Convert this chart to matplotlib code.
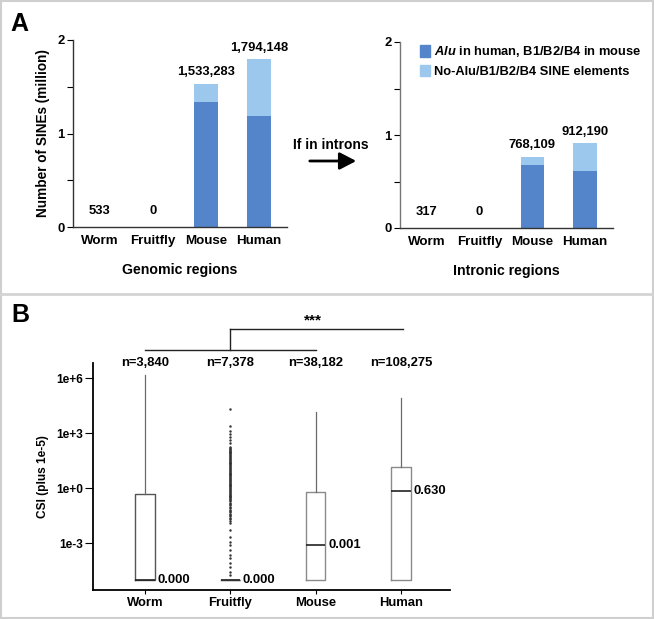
import matplotlib
matplotlib.use("Agg")
import matplotlib.pyplot as plt
import numpy as np
from matplotlib.patches import Rectangle, Patch
from matplotlib.lines import Line2D

plt.rcParams['font.family'] = ['Liberation Sans', 'DejaVu Sans']
plt.rcParams['font.weight'] = 'bold'
plt.rcParams['mathtext.fontset'] = 'custom'
plt.rcParams['mathtext.it'] = 'Liberation Sans:bold:italic'
plt.rcParams['mathtext.rm'] = 'Liberation Sans:bold'

# ---------------- data ----------------
species = ["Worm", "Fruitfly", "Mouse", "Human"]
# Panel A, genomic (million)
genomic_total = [0.000533, 0.0, 1.533283, 1.794148]
genomic_alu = [0.0, 0.0, 1.34, 1.19]
genomic_labels = ["533", "0", "1,533,283", "1,794,148"]
# Panel A, intronic (million)
intronic_total = [0.000317, 0.0, 0.768109, 0.912190]
intronic_alu = [0.0, 0.0, 0.677, 0.613]
intronic_labels = ["317", "0", "768,109", "912,190"]
legend_labels = [r"$\mathit{Alu}$ in human, B1/B2/B4 in mouse",
                 "No-Alu/B1/B2/B4 SINE elements"]

# Panel B, CSI (plus 1e-5) box statistics
n_labels = ["n=3,840", "n=7,378", "n=38,182", "n=108,275"]
median_labels = ["0.000", "0.000", "0.001", "0.630"]
box_q1 = [1e-5, 1e-5, 1e-5, 1e-5]
box_med = [1e-5, 1e-5, 0.00078, 0.69]
box_q3 = [0.47, 1e-5, 0.6, 14.0]
box_whislo = [1e-5, 1e-5, 1e-5, 1e-5]
box_whishi = [1.45e6, 1e-5, 1.4e4, 8.1e4]
# fruitfly outliers, log10 of value
fruitfly_outliers_log10 = [4.31, 3.38, 3.1, 2.95, 2.78, 2.62, 2.45,
    2.24, 2.19, 2.14, 2.09, 2.04, 1.99, 1.94, 1.89, 1.84, 1.79, 1.74, 1.69,
    1.64, 1.59, 1.54, 1.49, 1.44, 1.39, 1.34, 1.29, 1.24, 1.19, 1.14, 1.09,
    1.04, 0.99, 0.94, 0.89, 0.84, 0.79, 0.74, 0.69, 0.64, 0.59, 0.54, 0.49,
    0.44, 0.39, 0.34, 0.29, 0.24, 0.19, 0.14, 0.09, 0.04, -0.01, -0.06,
    -0.11, -0.16, -0.21, -0.26, -0.31, -0.36, -0.41, -0.46, -0.51, -0.56,
    -0.61, -0.66, -0.72, -0.8, -0.88, -0.95, -1.02, -1.1, -1.18, -1.25,
    -1.33, -1.4, -1.48, -1.55, -1.63, -1.7, -1.8, -1.91,
    -2.29, -2.67, -2.95, -3.11, -3.38, -3.65, -3.82, -4.09, -4.31, -4.58, -4.75]

dark = "#5484CA"
light = "#9DC8EE"

W, H = 654, 619
fig = plt.figure(figsize=(W / 100, H / 100), dpi=100)

def fx(px):
    return px / W

def fy(py):
    return 1 - py / H

# ---------------- Panel A ----------------
def bar_panel(rect, total, alu, labels, xlabel, ylabel=None):
    ax = fig.add_axes(rect)
    x = np.arange(len(species))
    other = [t - a for t, a in zip(total, alu)]
    ax.bar(x, alu, width=0.44, color=dark, label=legend_labels[0])
    ax.bar(x, other, bottom=alu, width=0.44, color=light, label=legend_labels[1])
    for xi, t, lab in zip(x, total, labels):
        off = 4 if t > 0.1 else 7
        ax.annotate(lab, (xi, t), xytext=(0, off), textcoords='offset points',
                    ha='center', va='bottom', fontsize=9.4, fontweight='bold')
    ax.set_xlim(-0.51, 3.53)
    ax.set_ylim(0, 2)
    ax.set_yticks([0, 1, 2])
    ax.set_yticks([0.5, 1.5], minor=True)
    ax.set_yticklabels(["0", "1", "2"], fontsize=9.4, fontweight='bold')
    ax.set_xticks(x)
    ax.set_xticklabels(species, fontsize=9.6, fontweight='bold')
    ax.tick_params(axis='x', length=0, pad=6)
    ax.tick_params(axis='y', which='both', length=4, width=0.8, pad=2)
    for s in ['top', 'right']:
        ax.spines[s].set_visible(False)
    ax.spines['left'].set_linewidth(1.0)
    ax.spines['bottom'].set_linewidth(1.0)
    ax.spines['left'].set_color('#333333')
    ax.spines['bottom'].set_color('#333333')
    ax.set_xlabel(xlabel, fontsize=10.2, fontweight='bold', labelpad=11)
    if ylabel:
        ax.set_ylabel(ylabel, fontsize=9.8, fontweight='bold', labelpad=5)
    return ax

axA1 = bar_panel([fx(73), fy(227), fx(287) - fx(73), fy(40) - fy(227)],
                 genomic_total, genomic_alu, genomic_labels,
                 "Genomic regions", "Number of SINEs (million)")
axA2 = bar_panel([fx(400), fy(228), fx(613) - fx(400), fy(42) - fy(228)],
                 intronic_total, intronic_alu, intronic_labels,
                 "Intronic regions")
axA2.spines['left'].set_color('#777777')
handles = [Patch(color=dark), Patch(color=light)]
axA2.legend(handles, legend_labels, loc='upper left', bbox_to_anchor=(0.07, 1.015),
            frameon=False, fontsize=9.3, handlelength=0.75, handleheight=0.95,
            handletextpad=0.35, labelspacing=0.45, borderaxespad=0)

# arrow between panels
fig.text(fx(331), fy(145), "If in introns", ha='center', va='center',
         fontsize=10, fontweight='bold')
fig.add_artist(matplotlib.patches.FancyArrowPatch(
    (fx(307), fy(161)), (fx(359), fy(161)), transform=fig.transFigure,
    arrowstyle='-|>,head_length=5,head_width=2.6', mutation_scale=2,
    color='black', lw=2.0))

# ---------------- Panel B ----------------
axB = fig.add_axes([fx(93), fy(590), fx(450) - fx(93), fy(363) - fy(590)])
stats = []
for i in range(4):
    d = dict(med=box_med[i], q1=box_q1[i], q3=box_q3[i],
             whislo=box_whislo[i], whishi=box_whishi[i], fliers=[])
    if species[i] == "Fruitfly":
        d['fliers'] = [10 ** v for v in fruitfly_outliers_log10]
    stats.append(d)
bp = axB.bxp(stats, positions=range(4), widths=0.23, showcaps=False,
             patch_artist=False,
             boxprops=dict(color='#8a8a8a', lw=1.0),
             whiskerprops=dict(color='#6a6a6a', lw=0.9),
             medianprops=dict(color='#222222', lw=1.2),
             flierprops=dict(marker='o', markersize=1.4, markerfacecolor='#333333',
                             markeredgecolor='#333333', markeredgewidth=0.3,
                             linestyle='none'))
bp['boxes'][0].set_color('#555555')
axB.set_yscale('log')
axB.set_ylim(10 ** -5.56, 10 ** 6.82)
axB.set_xlim(-0.61, 3.575)
axB.set_yticks([1e-3, 1e0, 1e3, 1e6])
axB.set_yticklabels(["1e-3", "1e+0", "1e+3", "1e+6"], fontsize=8.6, fontweight='bold')
axB.yaxis.set_minor_locator(matplotlib.ticker.NullLocator())
axB.set_xticks(range(4))
axB.set_xticklabels(species, fontsize=9.4, fontweight='bold')
axB.tick_params(axis='x', length=3, width=0.8, pad=2)
axB.tick_params(axis='y', length=6, width=0.8, pad=1)
for s in ['top', 'right']:
    axB.spines[s].set_visible(False)
axB.spines['left'].set_linewidth(1.3)
axB.spines['bottom'].set_linewidth(1.3)
axB.set_ylabel("CSI (plus 1e-5)", fontsize=8.6, fontweight='bold', labelpad=5)

tr = matplotlib.transforms.blended_transform_factory(axB.transData, axB.transAxes)
for i, lab in enumerate(n_labels):
    axB.text(i, 1.0, lab, transform=tr, ha='center', va='center',
             fontsize=9.4, fontweight='bold')
for i, lab in enumerate(median_labels):
    axB.annotate(lab, (i + 0.115, box_med[i]), xytext=(2, 0),
                 textcoords='offset points', ha='left', va='center',
                 fontsize=9.4, fontweight='bold')

# significance bracket
axB.plot([0, 2], [1.057, 1.057], transform=tr, color='#222222', lw=1.0, clip_on=False)
axB.plot([1, 1], [1.057, 1.150], transform=tr, color='#222222', lw=1.0, clip_on=False)
axB.plot([1, 3.02], [1.150, 1.150], transform=tr, color='#222222', lw=1.0, clip_on=False)
axB.text(1.97, 1.155, "***", transform=tr, ha='center', va='bottom',
         fontsize=11, fontweight='bold')

# panel letters
fig.text(fx(10), fy(12), "A", ha='left', va='top', fontsize=18, fontweight='bold')
fig.text(fx(11), fy(303), "B", ha='left', va='top', fontsize=18, fontweight='bold')

# frame and separator
fig.add_artist(Rectangle((0.001, 0.001), 0.997, 0.997, transform=fig.transFigure,
                         fill=False, edgecolor='#cfcfcf', lw=1.5))
fig.add_artist(Line2D([0, 1], [fy(294), fy(294)], transform=fig.transFigure,
                      color='#d4d4d4', lw=2))

fig.savefig("out.png", dpi=100)
